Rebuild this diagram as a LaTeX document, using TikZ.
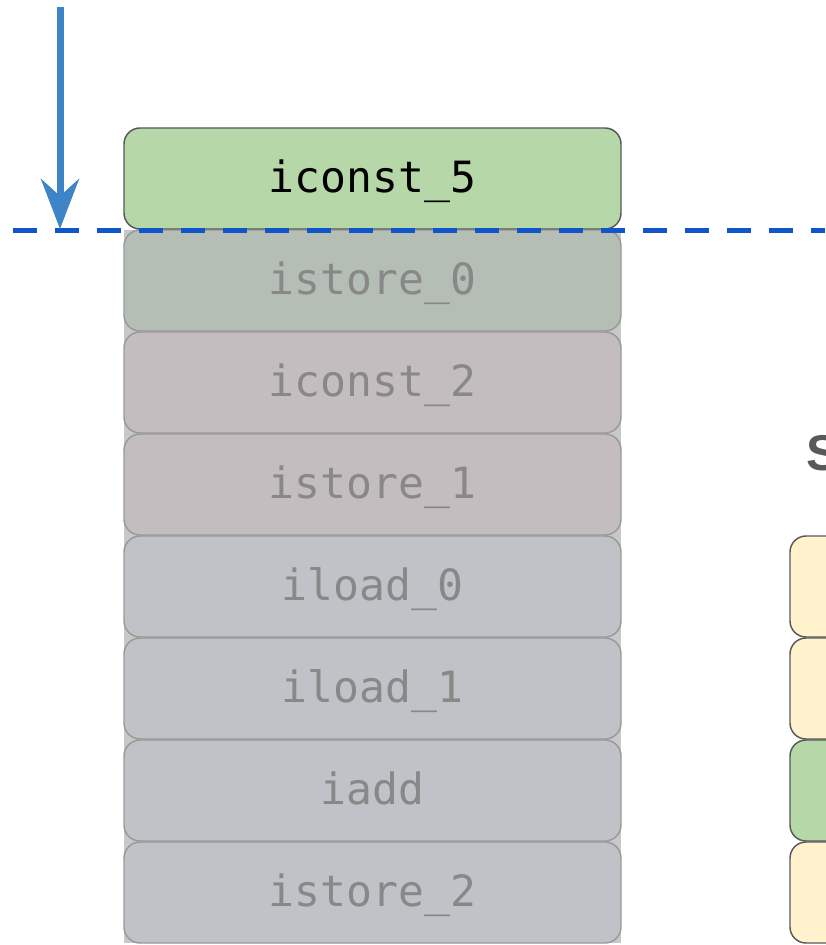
\documentclass[tikz,border=0pt]{standalone}
\usepackage{fontspec}
\setmonofont{DejaVu Sans Mono}
\newfontfamily\labelsans{Liberation Sans}
\usetikzlibrary{arrows.meta}
\definecolor{topgreen}{HTML}{B6D7A8}
\definecolor{fadegreen}{HTML}{B4BEB4}
\definecolor{fadepink}{HTML}{C3BDBF}
\definecolor{fadegray}{HTML}{BFC2C6}
\definecolor{backgray}{HTML}{C8C8C8}
\definecolor{fadeborder}{HTML}{999999}
\definecolor{darkborder}{HTML}{595959}
\definecolor{fadetext}{HTML}{888888}
\definecolor{arrowblue}{HTML}{3D85C6}
\definecolor{lineblue}{HTML}{1155CC}
\definecolor{paleyellow}{HTML}{FFF2CC}
\begin{document}
\begin{tikzpicture}[x=0.75pt,y=-0.75pt,
  opbox/.style={rectangle, rounded corners=12pt, minimum width=372.75pt,
    minimum height=75.75pt, inner sep=0pt, line width=1.1pt,
    text height=20.25pt, text depth=0pt,
    font=\ttfamily\fontsize{32.3}{36}\selectfont},
  activebox/.style={opbox, draw=darkborder, fill=topgreen, text=black},
  pastbox/.style={opbox, draw=fadeborder, text=fadetext},
  sidebox/.style={opbox, draw=darkborder}
]
\useasboundingbox (0,0) rectangle (825,945);
% background behind faded boxes
\fill[backgray] (124,230) rectangle (621,943);
% faded boxes
\node[pastbox, fill=fadegreen] (b1) at (372.5,280.5) {istore\_0};
\node[pastbox, fill=fadepink]  (b2) at (372.5,382.5) {iconst\_2};
\node[pastbox, fill=fadepink]  (b3) at (372.5,484.5) {istore\_1};
\node[pastbox, fill=fadegray]  (b4) at (372.5,586.5) {iload\_0};
\node[pastbox, fill=fadegray]  (b5) at (372.5,688.5) {iload\_1};
\node[pastbox, fill=fadegray]  (b6) at (372.5,790.5) {iadd};
\node[pastbox, fill=fadegray]  (b7) at (372.5,892.5) {istore\_2};
% active box
\node[activebox] (b0) at (372.5,178.5) {iconst\_5};
% right column (cut off)
\node[sidebox, fill=paleyellow] (s1) at (1038.5,586.5) {};
\node[sidebox, fill=paleyellow] (s2) at (1038.5,688.5) {};
\node[sidebox, fill=topgreen]   (s3) at (1038.5,790.5) {};
\node[sidebox, fill=paleyellow] (s4) at (1038.5,892.5) {};
\node[anchor=base west, inner sep=0pt, text=darkborder,
  font=\labelsans\bfseries\fontsize{37.7}{40}\selectfont] (title) at (806.5,470) {S};
% dashed line
\coordinate (d0) at (13,230);
\coordinate (d1) at (825,230);
\draw[lineblue, line width=3.75pt, dash pattern=on 18pt off 13.5pt] (d0) -- (d1);
% arrow
\coordinate (a0) at (60,7);
\coordinate (a1) at (60,229);
\draw[arrowblue, line width=5.25pt,
  -{Stealth[length=37.5pt, width=28.5pt, inset=12.75pt]}] (a0) -- (a1);
\end{tikzpicture}
\end{document}
